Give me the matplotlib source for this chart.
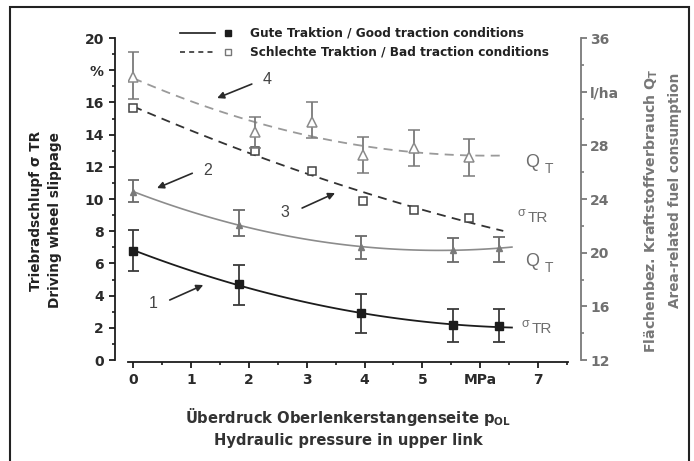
import numpy as np
import matplotlib
matplotlib.use("Agg")
import matplotlib.pyplot as plt
from matplotlib.ticker import MultipleLocator
from matplotlib.lines import Line2D
from matplotlib.patches import Rectangle

plt.rcParams['font.family'] = ['DejaVu Sans']
plt.rcParams['mathtext.default'] = 'regular'

# good traction (filled markers, solid lines)
press_good = [0, 1.83, 3.94, 5.53, 6.32]
slip_good = [6.8, 4.7, 2.9, 2.15, 2.1]
slip_good_lo = [5.5, 3.4, 1.7, 1.1, 1.1]
slip_good_hi = [8.1, 5.9, 4.1, 3.2, 3.15]
fuel_good = [24.55, 22.06, 20.44, 20.2, 20.33]
fuel_good_lo = [23.8, 21.24, 19.53, 19.33, 19.33]
fuel_good_hi = [25.42, 23.18, 21.26, 21.07, 21.19]

# bad traction (open markers, dashed lines)
press_bad = [0, 2.1, 3.09, 3.98, 4.86, 5.8]
slip_bad = [15.63, 13.0, 11.76, 9.9, 9.32, 8.8]
fuel_bad = [33.12, 29.02, 29.76, 27.28, 27.78, 27.15]
fuel_bad_lo = [31.43, 27.78, 28.52, 25.96, 26.46, 25.71]
fuel_bad_hi = [34.98, 30.13, 31.25, 28.64, 29.14, 28.45]

x_ticks = [0, 1, 2, 3, 4, 5, 6, 7]
x_ticklabels = ['0', '1', '2', '3', '4', '5', 'MPa', '7']
left_ticks = [0, 2, 4, 6, 8, 10, 12, 14, 16, 18, 20]
left_ticklabels = ['0', '2', '4', '6', '8', '10', '12', '14', '16', '%', '20']
right_ticks = [12, 16, 20, 24, 28, 32, 36]
right_ticklabels = ['12', '16', '20', '24', '28', 'l/ha', '36']

BLACK = '#1c1c1c'
GREY = '#8c8c8c'
GREY_TXT = '#6e6e6e'
ARIAL = ['Liberation Sans', 'DejaVu Sans']


def trend(x, y, x_end):
    c = np.polyfit(x, y, 2)
    xx = np.linspace(0, x_end, 120)
    return xx, np.polyval(c, xx)


fig = plt.figure(figsize=(6.94, 4.61), dpi=100)
ax = fig.add_axes([128 / 694, 99 / 461, 440 / 694, 324 / 461])
ax.set_xlim(-0.092, 7.52)
ax.set_ylim(-0.12, 20)
ax2 = ax.twinx()
ax2.set_ylim(12 - 0.12 * 1.2, 36)

# trend curves
xx, yy = trend(press_good, slip_good, 6.55)
ax.plot(xx, yy, color=BLACK, lw=1.3)
xx, yy = trend(press_good, fuel_good, 6.55)
ax2.plot(xx, yy, color=GREY, lw=1.2)
xx, yy = trend(press_bad, slip_bad, 6.4)
ax.plot(xx, yy, color='#333333', lw=1.3, ls=(0, (5, 3.5)))
xx, yy = trend(press_bad, fuel_bad, 6.4)
ax2.plot(xx, yy, color='#9a9a9a', lw=1.3, ls=(0, (5, 3.5)))

# points with error bars
ax.errorbar(press_good, slip_good,
            yerr=[np.subtract(slip_good, slip_good_lo), np.subtract(slip_good_hi, slip_good)],
            fmt='s', color=BLACK, ecolor='#3a3a3a', ms=6, elinewidth=1.3, capsize=4, capthick=1.3)
ax2.errorbar(press_good, fuel_good,
             yerr=[np.subtract(fuel_good, fuel_good_lo), np.subtract(fuel_good_hi, fuel_good)],
             fmt='^', color='#7a7a7a', ecolor='#6a6a6a', ms=5, elinewidth=1.3, capsize=4, capthick=1.3)
ax.plot(press_bad, slip_bad, 's', ms=5.5, mfc='white', mec='#444444', mew=1.1)
ax2.errorbar(press_bad, fuel_bad,
             yerr=[np.subtract(fuel_bad, fuel_bad_lo), np.subtract(fuel_bad_hi, fuel_bad)],
             fmt='^', ms=7, mfc='white', mec='#8a8a8a', mew=1.1, ecolor='#7a7a7a',
             elinewidth=1.3, capsize=4, capthick=1.3)

# spines
for s in ['top', 'right']:
    ax.spines[s].set_visible(False)
for s in ['top', 'left', 'bottom']:
    ax2.spines[s].set_visible(False)
ax.spines['left'].set_position(('outward', 9.4))
ax.spines['left'].set_bounds(0, 20)
ax2.spines['right'].set_position(('outward', 9))
ax2.spines['right'].set_bounds(12, 36)
ax.spines['left'].set_linewidth(1.3)
ax.spines['bottom'].set_linewidth(1.3)
ax.spines['left'].set_color(BLACK)
ax.spines['bottom'].set_color(BLACK)
ax2.spines['right'].set_linewidth(1.3)
ax2.spines['right'].set_color('#7a7a7a')

ax.set_xticks(x_ticks)
ax.set_xticklabels(x_ticklabels)
ax.xaxis.set_minor_locator(MultipleLocator(0.5))
ax.set_yticks(left_ticks)
ax.set_yticklabels(left_ticklabels)
ax.yaxis.set_minor_locator(MultipleLocator(1))
ax2.set_yticks(right_ticks)
ax2.set_yticklabels(right_ticklabels)
ax2.yaxis.set_minor_locator(MultipleLocator(2))

ax.tick_params(axis='both', which='major', length=4, width=1.3, color=BLACK,
               labelsize=10, labelcolor='#2a2a2a', pad=4)
ax.tick_params(axis='both', which='minor', length=2.5, width=1.2, color=BLACK)
ax2.tick_params(axis='y', which='major', length=4, width=1.3, color='#7a7a7a',
                labelsize=10, labelcolor='#707070', pad=3)
ax2.tick_params(axis='y', which='minor', length=2.5, width=1.2, color='#7a7a7a')
for lab in ax.get_xticklabels() + ax.get_yticklabels():
    lab.set_fontweight('bold')
for lab in ax2.get_yticklabels():
    lab.set_fontweight('bold')

# curve numbers with arrows
arrows = [('4', (2.31, 17.4), (2.05, 17.14), (1.45, 16.27)),
          ('2', (1.28, 11.8), (1.02, 11.6), (0.41, 10.68)),
          ('3', (2.62, 9.19), (2.92, 9.44), (3.49, 10.37)),
          ('1', (0.34, 3.52), (0.63, 3.73), (1.21, 4.66))]
for num, tpos, tail, head in arrows:
    ax.annotate('', xy=head, xytext=tail,
                arrowprops=dict(arrowstyle='-|>', color='#2a2a2a', lw=1.2,
                                mutation_scale=10, shrinkA=0, shrinkB=0))
    ax.text(tpos[0], tpos[1], num, fontsize=11.5, color='#444444', ha='center', va='center',
            family=ARIAL)

# right-hand curve labels
for qx, qy in [(6.78, 12.24), (6.78, 6.09)]:
    ax.text(qx, qy, 'Q', fontsize=13, color=GREY_TXT, ha='left', va='center', family=ARIAL)
    ax.text(qx + 0.34, qy - 0.35, 'T', fontsize=10, color=GREY_TXT, ha='left', va='center',
            family=ARIAL)
for sx, sy in [(6.65, 8.88), (6.72, 1.99)]:
    ax.text(sx, sy + 0.25, 'σ', fontsize=9, color=GREY_TXT, ha='left', va='center', family=ARIAL)
    ax.text(sx + 0.17, sy - 0.05, 'TR', fontsize=11, color=GREY_TXT, ha='left', va='center',
            family=ARIAL)

# axis titles
fig.text(36 / 694, 1 - 211 / 461, 'Triebradschlupf σ TR', rotation=90, fontsize=9.8,
         fontweight='bold', color='#222222', ha='center', va='center')
fig.text(55 / 694, 1 - 220 / 461, 'Driving wheel slippage', rotation=90, fontsize=9.8,
         fontweight='bold', color='#222222', ha='center', va='center')
fig.text(651 / 694, 1 - 211 / 461, 'Flächenbez. Kraftstoffverbrauch Q$_{T}$', rotation=90,
         fontsize=10.2, fontweight='bold', color='#777777', ha='center', va='center')
fig.text(675 / 694, 1 - 190 / 461, 'Area-related fuel consumption', rotation=90,
         fontsize=9.8, fontweight='bold', color='#777777', ha='center', va='center')
fig.text(348 / 694, 1 - 417 / 461, 'Überdruck Oberlenkerstangenseite p$_{OL}$', fontsize=10.6,
         fontweight='bold', color='#333333', ha='center', va='center')
fig.text(348 / 694, 1 - 440 / 461, 'Hydraulic pressure in upper link', fontsize=10.6,
         fontweight='bold', color='#333333', ha='center', va='center')

# legend drawn at the top
leg_rows = [('-', 's', BLACK, BLACK, 'Gute Traktion / Good traction conditions', 33),
            ('--', 's', '#333333', 'white', 'Schlechte Traktion / Bad traction conditions', 52)]
for ls, mk, col, mfc, label, py in leg_rows:
    fy = 1 - py / 461
    fig.add_artist(Line2D([180 / 694, 215 / 694], [fy, fy], color=col, lw=1.2,
                          ls=ls if ls == '-' else (0, (3, 2.5)), transform=fig.transFigure))
    fig.add_artist(Line2D([228 / 694], [fy], marker=mk, ms=5, mfc=mfc,
                          mec=col if mfc != 'white' else '#777777', mew=1,
                          transform=fig.transFigure))
    fig.text(250 / 694, fy, label, fontsize=8.7, fontweight='bold', color='#222222',
             ha='left', va='center')

# outer frame (open at the bottom)
fig.add_artist(Rectangle((10 / 694, -0.1), 679 / 694, 1.1 - 7 / 461, fill=False,
                         lw=1.5, ec='#222222', transform=fig.transFigure))

fig.savefig('out.png', dpi=100)
